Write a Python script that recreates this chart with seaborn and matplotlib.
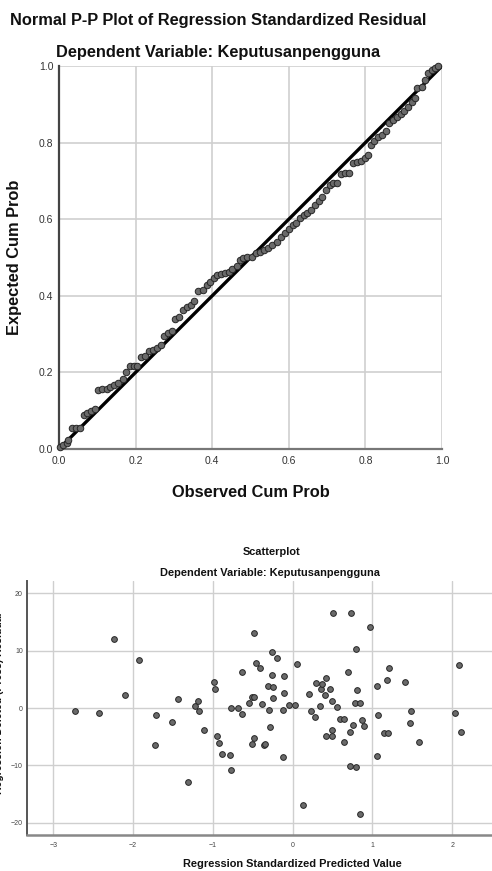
import matplotlib
matplotlib.use('Agg')
import matplotlib.pyplot as plt
import seaborn as sns
import pandas as pd

# ---- Normal P-P plot data ----
obs_cum = [0.003, 0.011, 0.020, 0.024, 0.033, 0.044, 0.055, 0.064, 0.074, 0.084,
           0.094, 0.103, 0.113, 0.125, 0.133, 0.144, 0.155, 0.166, 0.175, 0.185,
           0.196, 0.203, 0.214, 0.225, 0.235, 0.245, 0.255, 0.266, 0.275, 0.285,
           0.296, 0.303, 0.314, 0.323, 0.333, 0.344, 0.353, 0.364, 0.375, 0.386,
           0.394, 0.405, 0.413, 0.423, 0.433, 0.445, 0.453, 0.464, 0.473, 0.481,
           0.492, 0.503, 0.514, 0.525, 0.535, 0.546, 0.557, 0.568, 0.579, 0.590,
           0.600, 0.610, 0.620, 0.629, 0.640, 0.648, 0.657, 0.668, 0.679, 0.686,
           0.697, 0.708, 0.716, 0.727, 0.735, 0.747, 0.757, 0.767, 0.777, 0.788,
           0.799, 0.806, 0.814, 0.823, 0.834, 0.843, 0.854, 0.862, 0.873, 0.882,
           0.892, 0.901, 0.912, 0.921, 0.930, 0.936, 0.947, 0.956, 0.964, 0.973,
           0.982, 0.990]
exp_cum = [0.006, 0.010, 0.015, 0.023, 0.054, 0.054, 0.054, 0.089, 0.093, 0.099,
           0.104, 0.154, 0.156, 0.156, 0.161, 0.167, 0.173, 0.182, 0.202, 0.217,
           0.217, 0.217, 0.241, 0.243, 0.257, 0.258, 0.264, 0.272, 0.295, 0.304,
           0.309, 0.339, 0.344, 0.363, 0.370, 0.376, 0.387, 0.413, 0.415, 0.428,
           0.437, 0.446, 0.454, 0.456, 0.459, 0.463, 0.469, 0.478, 0.493, 0.498,
           0.500, 0.502, 0.511, 0.515, 0.520, 0.526, 0.533, 0.541, 0.553, 0.563,
           0.575, 0.584, 0.591, 0.602, 0.611, 0.615, 0.624, 0.637, 0.648, 0.659,
           0.676, 0.689, 0.694, 0.695, 0.718, 0.721, 0.721, 0.746, 0.749, 0.752,
           0.761, 0.768, 0.794, 0.804, 0.815, 0.820, 0.830, 0.850, 0.859, 0.868,
           0.874, 0.883, 0.894, 0.907, 0.917, 0.942, 0.946, 0.963, 0.981, 0.990,
           0.996, 1.000]
pp_ticks = [0.0, 0.2, 0.4, 0.6, 0.8, 1.0]

# ---- Scatterplot data ----
pred_value = [-2.24, -2.10, -1.93, -1.44, -1.22, -1.18, -0.99, -0.97, -0.77, -0.68,
              -0.64, -0.55, -0.51, -0.48, -0.48, -0.46, -0.41, -0.38, -0.31, -0.26,
              -0.26, -0.25, -0.24, -0.20, -0.11, -0.11, -0.04, 0.03, 0.06, 0.21,
              0.29, 0.34, 0.35, 0.37, 0.41, 0.42, 0.47, 0.49, 0.51, 0.56,
              0.69, 0.73, 0.78, 0.80, 0.81, 0.85, 0.97, 1.06, 1.18, 1.21,
              1.41, 2.09,
              -2.73, -2.43, -1.71, -1.72, -1.51, -1.31, -1.17, -1.11, -0.95, -0.92,
              -0.89, -0.78, -0.77, -0.63, -0.51, -0.49, -0.36, -0.34, -0.29, -0.28,
              -0.12, -0.12, 0.13, 0.23, 0.28, 0.42, 0.49, 0.50, 0.59, 0.64,
              0.64, 0.72, 0.72, 0.76, 0.80, 0.85, 0.87, 0.90, 1.07, 1.06,
              1.14, 1.19, 1.49, 1.47, 1.58, 2.03, 2.11]
deleted_resid = [12.0, 2.2, 8.3, 1.5, 0.35, 1.3, 4.5, 3.3, 0.05, 0.05,
                 6.3, 0.9, 1.9, 1.9, 13.0, 7.9, 6.9, 0.75, 3.8, 9.8,
                 5.7, 3.7, 1.7, 8.7, 5.6, 2.6, 0.5, 0.5, 7.7, 2.4,
                 4.3, 0.3, 3.3, 4.2, 2.2, 5.3, 3.3, 1.2, 16.5, 0.2,
                 6.2, 16.5, 0.9, 10.2, 3.1, 0.9, 14.1, 3.8, 4.8, 6.9,
                 4.6, 7.4,
                 -0.6, -0.8, -1.3, -6.5, -2.4, -12.8, -0.6, -3.8, -4.9, -6.1,
                 -8.0, -8.1, -10.8, -1.0, -6.3, -5.2, -6.5, -6.3, -0.3, -3.3,
                 -0.4, -8.5, -16.8, -0.6, -1.6, -4.8, -4.8, -3.8, -1.9, -1.9,
                 -6.0, -4.1, -10.1, -3.0, -10.3, -18.4, -2.1, -3.2, -1.2, -8.4,
                 -4.4, -4.4, -0.5, -2.6, -6.0, -0.9, -4.2]
sc_xticks = [-3, -2, -1, 0, 1, 2]
sc_yticks = [-20, -10, 0, 10, 20]

sns.set_theme(style='white')
plt.rcParams['font.family'] = ['Liberation Sans', 'DejaVu Sans']

W, H = 492, 871
fig = plt.figure(figsize=(W / 100, H / 100), dpi=100)


def fx(px):
    return px / W


def fy(py):
    return 1 - py / H


grid_c = '#cfcfcf'
face_c = '#6a6a6a'
edge_c = '#262626'
text_c = '#111111'

# ---------------- P-P plot ----------------
ax1 = fig.add_axes([fx(59), fy(449), 383 / W, 383 / H])
pp = pd.DataFrame({'obs': obs_cum, 'exp': exp_cum})
ax1.axline((0, 0), slope=1, color='black', lw=2.4, zorder=3)
sns.scatterplot(data=pp, x='obs', y='exp', ax=ax1, s=22, color=face_c,
                edgecolor=edge_c, linewidth=0.7, zorder=4, clip_on=False)
ax1.set_xlim(0, 1)
ax1.set_ylim(0, 1)
ax1.set_xticks(pp_ticks)
ax1.set_yticks(pp_ticks)
ax1.set_xticklabels([f'{t:.1f}' for t in pp_ticks])
ax1.set_yticklabels([f'{t:.1f}' for t in pp_ticks])
ax1.grid(True, color=grid_c, lw=1.2, zorder=0)
ax1.set_axisbelow(True)
ax1.tick_params(length=0, labelsize=7.5, labelcolor='#333333')
ax1.tick_params(axis='y', pad=4)
ax1.tick_params(axis='x', pad=5)
ax1.set_xlabel('')
ax1.set_ylabel('')
for side in ['top', 'right']:
    ax1.spines[side].set_visible(False)
ax1.spines['left'].set_color('#444444')
ax1.spines['left'].set_linewidth(1.6)
ax1.spines['bottom'].set_color('#777777')
ax1.spines['bottom'].set_linewidth(1.6)

fig.text(fx(10), fy(20), 'Normal P-P Plot of Regression Standardized Residual',
         ha='left', va='center', fontsize=11.8, weight='bold', color=text_c)
fig.text(fx(218), fy(52), 'Dependent Variable: Keputusanpengguna',
         ha='center', va='center', fontsize=11.8, weight='bold', color=text_c)
fig.text(fx(15), fy(257), 'Expected Cum Prob', rotation=90,
         ha='center', va='center', fontsize=11.8, weight='bold', color=text_c)
fig.text(fx(251), fy(492), 'Observed Cum Prob',
         ha='center', va='center', fontsize=11.8, weight='bold', color=text_c)

# ---------------- Scatterplot ----------------
ax2 = fig.add_axes([fx(27), fy(835), (500 - 27) / W, (835 - 581) / H])
sc = pd.DataFrame({'pred': pred_value, 'resid': deleted_resid})
sns.scatterplot(data=sc, x='pred', y='resid', ax=ax2, s=17, color=face_c,
                edgecolor=edge_c, linewidth=0.7, zorder=4)
ax2.set_xlim(-3.33, 2.6)
ax2.set_ylim(-22.1, 22.1)
ax2.set_xticks(sc_xticks)
ax2.set_yticks(sc_yticks)
ax2.grid(True, color=grid_c, lw=1.0, zorder=0)
ax2.set_axisbelow(True)
ax2.tick_params(length=0, labelsize=5, labelcolor='#444444')
ax2.tick_params(axis='y', pad=3)
ax2.tick_params(axis='x', pad=5)
ax2.set_xlabel('')
ax2.set_ylabel('')
for side in ['top', 'right']:
    ax2.spines[side].set_visible(False)
ax2.spines['left'].set_color('#555555')
ax2.spines['left'].set_linewidth(1.4)
ax2.spines['bottom'].set_color('#888888')
ax2.spines['bottom'].set_linewidth(1.8)

fig.text(fx(272), fy(552), 'Scatterplot', ha='center', va='center',
         fontsize=7.9, weight='bold', color=text_c)
fig.text(fx(270), fy(573), 'Dependent Variable: Keputusanpengguna',
         ha='center', va='center', fontsize=7.9, weight='bold', color=text_c)
fig.text(fx(292), fy(864), 'Regression Standardized Predicted Value',
         ha='center', va='center', fontsize=7.9, weight='bold', color=text_c)
fig.text(fx(4), fy(703), 'Regression Deleted (Press) Residual', rotation=90,
         ha='right', va='center', fontsize=7.5, weight='bold', color=text_c)

fig.savefig('out.png', dpi=100)
